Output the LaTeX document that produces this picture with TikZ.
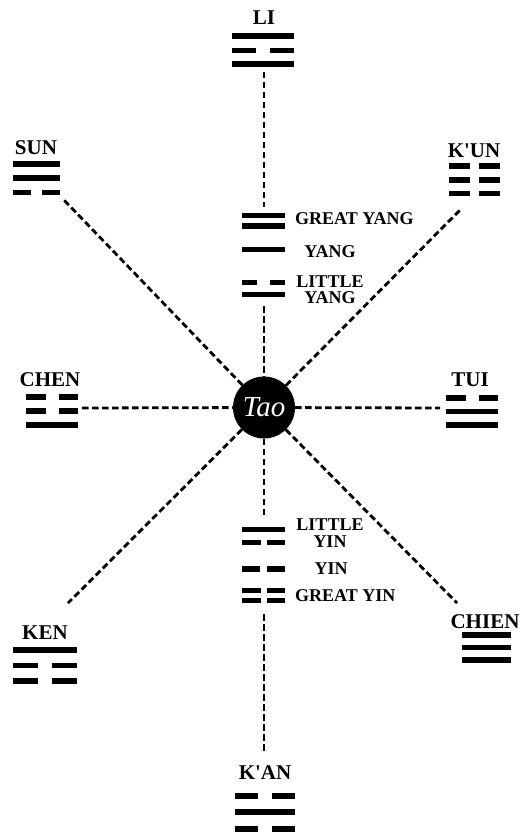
\documentclass[tikz,border=0pt]{standalone}
\usepackage{fontspec}
\setmainfont{Liberation Serif}
\newcommand\tgsolid[3]{\fill[black] (#1,#3-2.8) rectangle (#2,#3+2.8);}
\newcommand\tgbroken[4]{%
  \fill[black] (#1,#3-2.8) rectangle ({(#1+#2)/2-#4/2},#3+2.8);
  \fill[black] ({(#1+#2)/2+#4/2},#3-2.8) rectangle (#2,#3+2.8);}
\tikzset{
  link/.style={line width=2.8pt, dash pattern=on 6.5pt off 3.5pt},
  bigname/.style={font=\fontsize{21}{21}\selectfont\bfseries, inner sep=0pt},
  smallname/.style={font=\fontsize{18}{18}\selectfont\bfseries, inner sep=0pt},
}
\begin{document}
\begin{tikzpicture}[x=1pt,y=-1pt]
\useasboundingbox (0,0) rectangle (520,834);
% centre
\node[circle, fill=black, minimum size=62pt, inner sep=0pt,
      font=\fontsize{29}{29}\selectfont\itshape, text=white] (tao) at (264,407.5) {Tao};
% names
\node[bigname] (li) at (264,18) {LI};
\node[bigname] (sun) at (36,148) {SUN};
\node[bigname] (kun) at (474,151) {K\textquotesingle UN};
\node[bigname] (chen) at (50,380) {CHEN};
\node[bigname] (tui) at (470,380) {TUI};
\node[bigname] (ken) at (45,633) {KEN};
\node[bigname] (chien) at (485,622) {CHIEN};
\node[bigname] (kan) at (265,772.5) {K\textquotesingle AN};
\node[smallname, anchor=west] (gyang) at (295,219) {GREAT YANG};
\node[smallname] (yang) at (330,252) {YANG};
\node[smallname, align=center, font=\fontsize{18}{16.5}\selectfont\bfseries] (lyang) at (330,289.5) {LITTLE\\YANG};
\node[smallname, align=center, font=\fontsize{18}{16.5}\selectfont\bfseries] (lyin) at (330,533) {LITTLE\\YIN};
\node[smallname] (yin) at (331,569) {YIN};
\node[smallname, anchor=west] (gyin) at (295,595.5) {GREAT YIN};
% trigrams
% LI
\tgsolid{232}{294}{36} \tgbroken{232}{294}{50.5}{14} \tgsolid{232}{294}{64}
% SUN
\tgsolid{13}{60}{164} \tgsolid{13}{60}{178} \tgbroken{13}{60}{192.5}{11}
% K'UN
\tgbroken{449}{500}{166}{9} \tgbroken{449}{500}{180}{9} \tgbroken{449}{500}{193.5}{9}
% CHEN
\tgbroken{26}{78}{397}{13} \tgbroken{26}{78}{411}{13} \tgsolid{26}{78}{425}
% TUI
\tgbroken{446}{498}{398}{13} \tgsolid{446}{498}{411.5} \tgsolid{446}{498}{425}
% KEN
\tgsolid{13}{77}{650} \tgbroken{13}{77}{665.5}{14} \tgbroken{13}{77}{681}{14}
% CHIEN
\tgsolid{462}{511}{635} \tgsolid{462}{511}{647.5} \tgsolid{462}{511}{660}
% K'AN
\tgbroken{235}{295}{796}{14} \tgsolid{235}{295}{812} \tgbroken{235}{295}{829}{14}
% yang / yin figures
\tgsolid{242}{285}{215.5} \tgsolid{242}{285}{226}
\tgsolid{242}{285}{249.5}
\tgbroken{242}{285}{282.5}{13} \tgsolid{242}{285}{294.5}
\tgsolid{242}{285}{529.5} \tgbroken{242}{285}{542.5}{6}
\tgbroken{242}{285}{569}{7}
\tgbroken{242}{285}{590.5}{6} \tgbroken{242}{285}{600.5}{6}
% connector ends
\coordinate (liS) at (264,72);
\coordinate (gyangN) at (264,207);
\coordinate (lyangS) at (264,306);
\coordinate (lyinN) at (264,517);
\coordinate (gyinS) at (264,614);
\coordinate (kanN) at (264,753);
\coordinate (sunE) at (62,198);
\coordinate (kunW) at (462,208);
\coordinate (chenE) at (82,408);
\coordinate (tuiW) at (440,408);
\coordinate (kenE) at (68,603);
\coordinate (chienW) at (457,603);
% connectors
\draw[link] (liS) -- (gyangN);
\draw[link] (lyangS) -- (tao);
\draw[link] (tao) -- (lyinN);
\draw[link] (gyinS) -- (kanN);
\draw[link] (tao) -- (sunE);
\draw[link] (tao) -- (kunW);
\draw[link] (chenE) -- (tao);
\draw[link] (tao) -- (tuiW);
\draw[link] (tao) -- (kenE);
\draw[link] (tao) -- (chienW);
\end{tikzpicture}
\end{document}
